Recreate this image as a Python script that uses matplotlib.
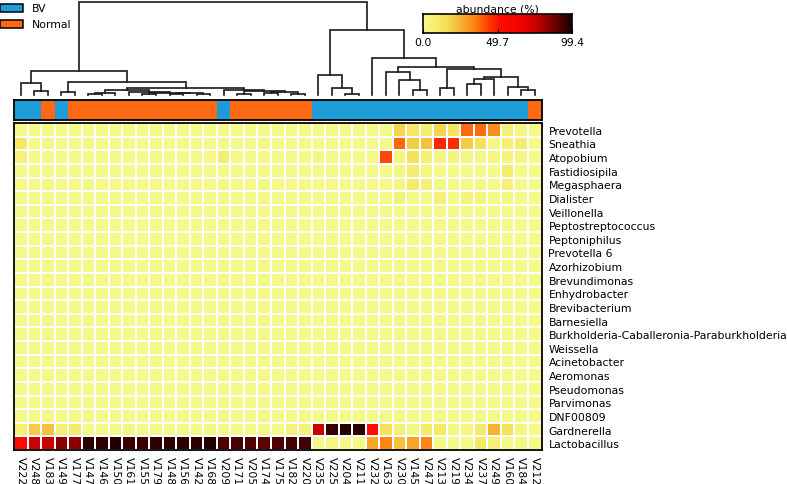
import numpy as np
import matplotlib
matplotlib.use("Agg")
import matplotlib.pyplot as plt
from matplotlib.colors import LinearSegmentedColormap, ListedColormap
from matplotlib.patches import Rectangle

samples = ["V222", "V248", "V183", "V149", "V177", "V147", "V146", "V150", "V161", "V155",
           "V179", "V148", "V156", "V142", "V168", "V209", "V171", "V205", "V174", "V175",
           "V182", "V220", "V235", "V225", "V204", "V211", "V232", "V163", "V230", "V145",
           "V247", "V213", "V219", "V234", "V237", "V249", "V160", "V184", "V212"]

groups = ["BV", "BV", "Normal", "BV", "Normal", "Normal", "Normal", "Normal", "Normal", "Normal",
          "Normal", "Normal", "Normal", "Normal", "Normal", "BV", "Normal", "Normal", "Normal", "Normal",
          "Normal", "Normal", "BV", "BV", "BV", "BV", "BV", "BV", "BV", "BV",
          "BV", "BV", "BV", "BV", "BV", "BV", "BV", "BV", "Normal"]

taxa = ["Prevotella", "Sneathia", "Atopobium", "Fastidiosipila", "Megasphaera", "Dialister",
        "Veillonella", "Peptostreptococcus", "Peptoniphilus", "Prevotella 6", "Azorhizobium",
        "Brevundimonas", "Enhydrobacter", "Brevibacterium", "Barnesiella",
        "Burkholderia-Caballeronia-Paraburkholderia", "Weissella", "Acinetobacter",
        "Aeromonas", "Pseudomonas", "Parvimonas", "DNF00809", "Gardnerella", "Lactobacillus"]

prevotella     = [0.5, 0.5, 0.5, 0.5, 0.5, 0.5, 0.5, 0.5, 0.5, 0.5, 0.5, 0.5, 0.5, 0.5, 0.5, 0.5, 0.5, 0.5, 0.5, 0.5,
                  0.5, 0.5, 0.5, 0.5, 0.5, 0.5, 0.5, 0.5, 18, 12, 8, 18, 13, 38, 38, 32, 6, 2, 1]
sneathia       = [12, 0.5, 0.5, 0.5, 0.5, 0.5, 0.5, 0.5, 0.5, 0.5, 0.5, 0.5, 0.5, 0.5, 0.5, 0.5, 0.5, 0.5, 0.5, 0.5,
                  0.5, 0.5, 0.5, 0.5, 0.5, 0.5, 0.5, 0.5, 38, 20, 22, 47, 46, 20, 15, 2, 7, 8, 1]
atopobium      = [5, 0.5, 0.5, 0.5, 0.5, 0.5, 0.5, 0.5, 0.5, 0.5, 0.5, 0.5, 0.5, 0.5, 0.5, 8, 0.5, 0.5, 0.5, 0.5,
                  0.5, 0.5, 3, 0.5, 0.5, 0.5, 0.5, 42, 4, 15, 7, 3, 4, 3, 2, 3, 4, 2, 1]
fastidiosipila = [0.5, 0.5, 0.5, 0.5, 0.5, 0.5, 0.5, 0.5, 0.5, 0.5, 0.5, 0.5, 0.5, 0.5, 0.5, 0.5, 0.5, 0.5, 0.5, 0.5,
                  0.5, 0.5, 0.5, 0.5, 0.5, 0.5, 0.5, 0.5, 3, 8, 3, 1, 1, 1, 1, 1, 9, 1, 0.5]
megasphaera    = [0.5, 0.5, 0.5, 0.5, 0.5, 0.5, 0.5, 0.5, 0.5, 0.5, 0.5, 0.5, 0.5, 0.5, 0.5, 0.5, 0.5, 0.5, 0.5, 0.5,
                  0.5, 0.5, 0.5, 0.5, 0.5, 0.5, 0.5, 0.5, 3, 10, 5, 1, 1, 1, 1, 1, 5, 1, 0.5]
dialister      = [0.5, 0.5, 0.5, 0.5, 0.5, 0.5, 0.5, 0.5, 0.5, 0.5, 0.5, 0.5, 0.5, 0.5, 0.5, 0.5, 0.5, 0.5, 0.5, 0.5,
                  0.5, 0.5, 0.5, 0.5, 0.5, 0.5, 0.5, 0.5, 5, 1, 1, 5, 1, 4, 4, 1, 3, 1, 0.5]
veillonella    = [0.5] * 28 + [1, 1, 1, 1, 1, 1, 1, 1, 1, 1, 0.5]
peptostrepto   = [0.5] * 28 + [1, 1, 1, 1, 1, 1, 1, 1, 1, 1, 0.5]
peptoniphilus  = [0.5] * 28 + [1, 1, 1, 1, 1, 1, 1, 1, 1, 1, 0.5]
prevotella6    = [0.5] * 28 + [1, 1, 1, 1, 1, 1, 1, 1, 1, 1, 0.5]
azorhizobium   = [0.5] * 39
brevundimonas  = [0.5] * 39
enhydrobacter  = [0.5] * 39
brevibacterium = [0.5] * 39
barnesiella    = [0.5] * 39
burkholderia   = [0.5] * 39
weissella      = [0.5] * 39
acinetobacter  = [0.5] * 39
aeromonas      = [0.5] * 39
pseudomonas    = [0.5] * 39
parvimonas     = [0.5] * 28 + [1, 1, 1, 1, 1, 1, 1, 1, 1, 1, 0.5]
dnf00809       = [0.5] * 28 + [1, 1, 1, 1, 1, 1, 1, 1, 1, 1, 0.5]
gardnerella    = [7, 20, 22, 7, 10, 1, 1, 1, 3, 1, 1, 1, 1, 1, 3, 1, 1, 1, 1, 1,
                  5, 5, 74, 95, 98, 97, 52, 15, 7, 2, 10, 12, 2, 2, 10, 25, 15, 3, 1]
lactobacillus  = [55, 74, 74, 84, 84, 97, 96, 98, 95, 95, 96, 97, 97, 97, 98, 92, 93, 92, 90, 92,
                  93, 94, 1, 3, 1, 1, 28, 34, 22, 28, 34, 1, 1, 1, 12, 7, 1, 2, 1]

rows = [prevotella, sneathia, atopobium, fastidiosipila, megasphaera, dialister, veillonella,
        peptostrepto, peptoniphilus, prevotella6, azorhizobium, brevundimonas, enhydrobacter,
        brevibacterium, barnesiella, burkholderia, weissella, acinetobacter, aeromonas,
        pseudomonas, parvimonas, dnf00809, gardnerella, lactobacillus]

# dendrogram merges (left id, right id, height); ids < 39 are columns in display order
merges = [(1, 2, 3.7), (0, 39, 11.7), (3, 4, 2.7), (5, 6, 1.0), (42, 7, 1.8), (9, 10, 0.8),
          (11, 12, 0.6), (13, 14, 1.2), (45, 46, 1.6), (44, 47, 2.4), (8, 48, 3.2), (43, 49, 5.0),
          (16, 17, 1.0), (18, 19, 2.0), (20, 21, 1.4), (52, 53, 3.0), (51, 54, 3.8), (15, 55, 5.0),
          (50, 56, 7.5), (41, 57, 13.3), (40, 58, 23.7),
          (24, 25, 1.0), (23, 60, 7.0), (22, 61, 20.0), (29, 30, 5.3), (28, 63, 15.3),
          (27, 64, 23.3), (31, 32, 7.0), (33, 34, 11.0), (67, 35, 16.0), (37, 38, 5.5),
          (36, 69, 8.0), (68, 70, 18.0), (66, 71, 26.0), (65, 72, 28.3), (26, 73, 36.7),
          (62, 74, 65.0), (59, 75, 93.0)]

vmax = 99.4
group_colors = {"BV": "#1e9cd7", "Normal": "#fd6a12"}

W, H = 787, 485
fig = plt.figure(figsize=(W / 100, H / 100), dpi=100)
FS = 7.8


def box(x0, y0, x1, y1):
    return [x0 / W, 1 - y1 / H, (x1 - x0) / W, (y1 - y0) / H]


cmap = LinearSegmentedColormap.from_list("abund", [
    (0.0, "#f4fa8a"), (0.15, "#f6e25a"), (0.25, "#f6b432"), (0.35, "#ff8012"),
    (0.45, "#ff3400"), (0.52, "#ff0c00"), (0.68, "#ee0000"), (0.8, "#b00000"),
    (0.9, "#600000"), (1.0, "#1a0000")])

data = np.array(rows, dtype=float)
n_rows, n_cols = data.shape

# heatmap
ax = fig.add_axes(box(14, 124, 541.5, 451))
ax.pcolormesh(np.arange(n_cols + 1), np.arange(n_rows + 1), data, cmap=cmap, vmin=0, vmax=vmax,
              edgecolors="white", linewidth=1.3)
ax.set_xlim(0, n_cols)
ax.set_ylim(n_rows, 0)
ax.set_xticks(np.arange(n_cols) + 0.5)
ax.set_xticklabels(samples, rotation=270, fontsize=FS)
ax.yaxis.tick_right()
ax.set_yticks(np.arange(n_rows) + 0.5)
ax.set_yticklabels(taxa, fontsize=FS)
ax.tick_params(axis="x", length=0, pad=4)
ax.tick_params(axis="y", length=0, pad=5)
for s in ax.spines.values():
    s.set_linewidth(1.3)
    s.set_color("black")

# annotation bar
aax = fig.add_axes(box(14, 100.5, 541.5, 121))
codes = np.array([[0 if g == "BV" else 1 for g in groups]])
aax.pcolormesh(np.arange(n_cols + 1), [0, 1], codes,
               cmap=ListedColormap([group_colors["BV"], group_colors["Normal"]]), vmin=0, vmax=1)
aax.set_xlim(0, n_cols)
aax.set_ylim(0, 1)
aax.set_xticks([])
aax.set_yticks([])
for s in aax.spines.values():
    s.set_linewidth(1.3)

# dendrogram
dax = fig.add_axes(box(14, 3, 541.5, 96))
dax.set_xlim(0, n_cols)
dax.set_ylim(0, 93)
dax.axis("off")
pos = {i: (i + 0.5, 0.0) for i in range(n_cols)}
nid = n_cols
for a, b, h in merges:
    xa, ha = pos[a]
    xb, hb = pos[b]
    dax.plot([xa, xa, xb, xb], [ha, h, h, hb], color="#1a1a1a", lw=1.2, clip_on=False,
             solid_joinstyle="miter")
    pos[nid] = ((xa + xb) / 2, h)
    nid += 1

# colorbar
cax = fig.add_axes(box(423, 15, 572, 34))
grad = np.linspace(0, vmax, 256).reshape(1, -1)
cax.imshow(grad, cmap=cmap, aspect="auto", extent=[0, vmax, 0, 1], vmin=0, vmax=vmax)
cax.set_yticks([])
cax.set_xticks([0, 49.7, 99.4])
cax.set_xticklabels(["0.0", "49.7", "99.4"], fontsize=FS)
cax.tick_params(axis="x", direction="in", length=3, width=0.8, pad=3)
cax.set_title("abundance (%)", fontsize=FS, pad=2)
for s in cax.spines.values():
    s.set_linewidth(1.2)

# legend
for i, g in enumerate(["BV", "Normal"]):
    y0 = 5 + i * 16
    fig.add_artist(Rectangle((0, 1 - (y0 + 8) / H), 22.5 / W, 8 / H, transform=fig.transFigure,
                             facecolor=group_colors[g], edgecolor="black", lw=1.1))
    fig.text(31.5 / W, 1 - (y0 + 4) / H, g, fontsize=FS, va="center", ha="left")

fig.savefig("out.png", dpi=100)
